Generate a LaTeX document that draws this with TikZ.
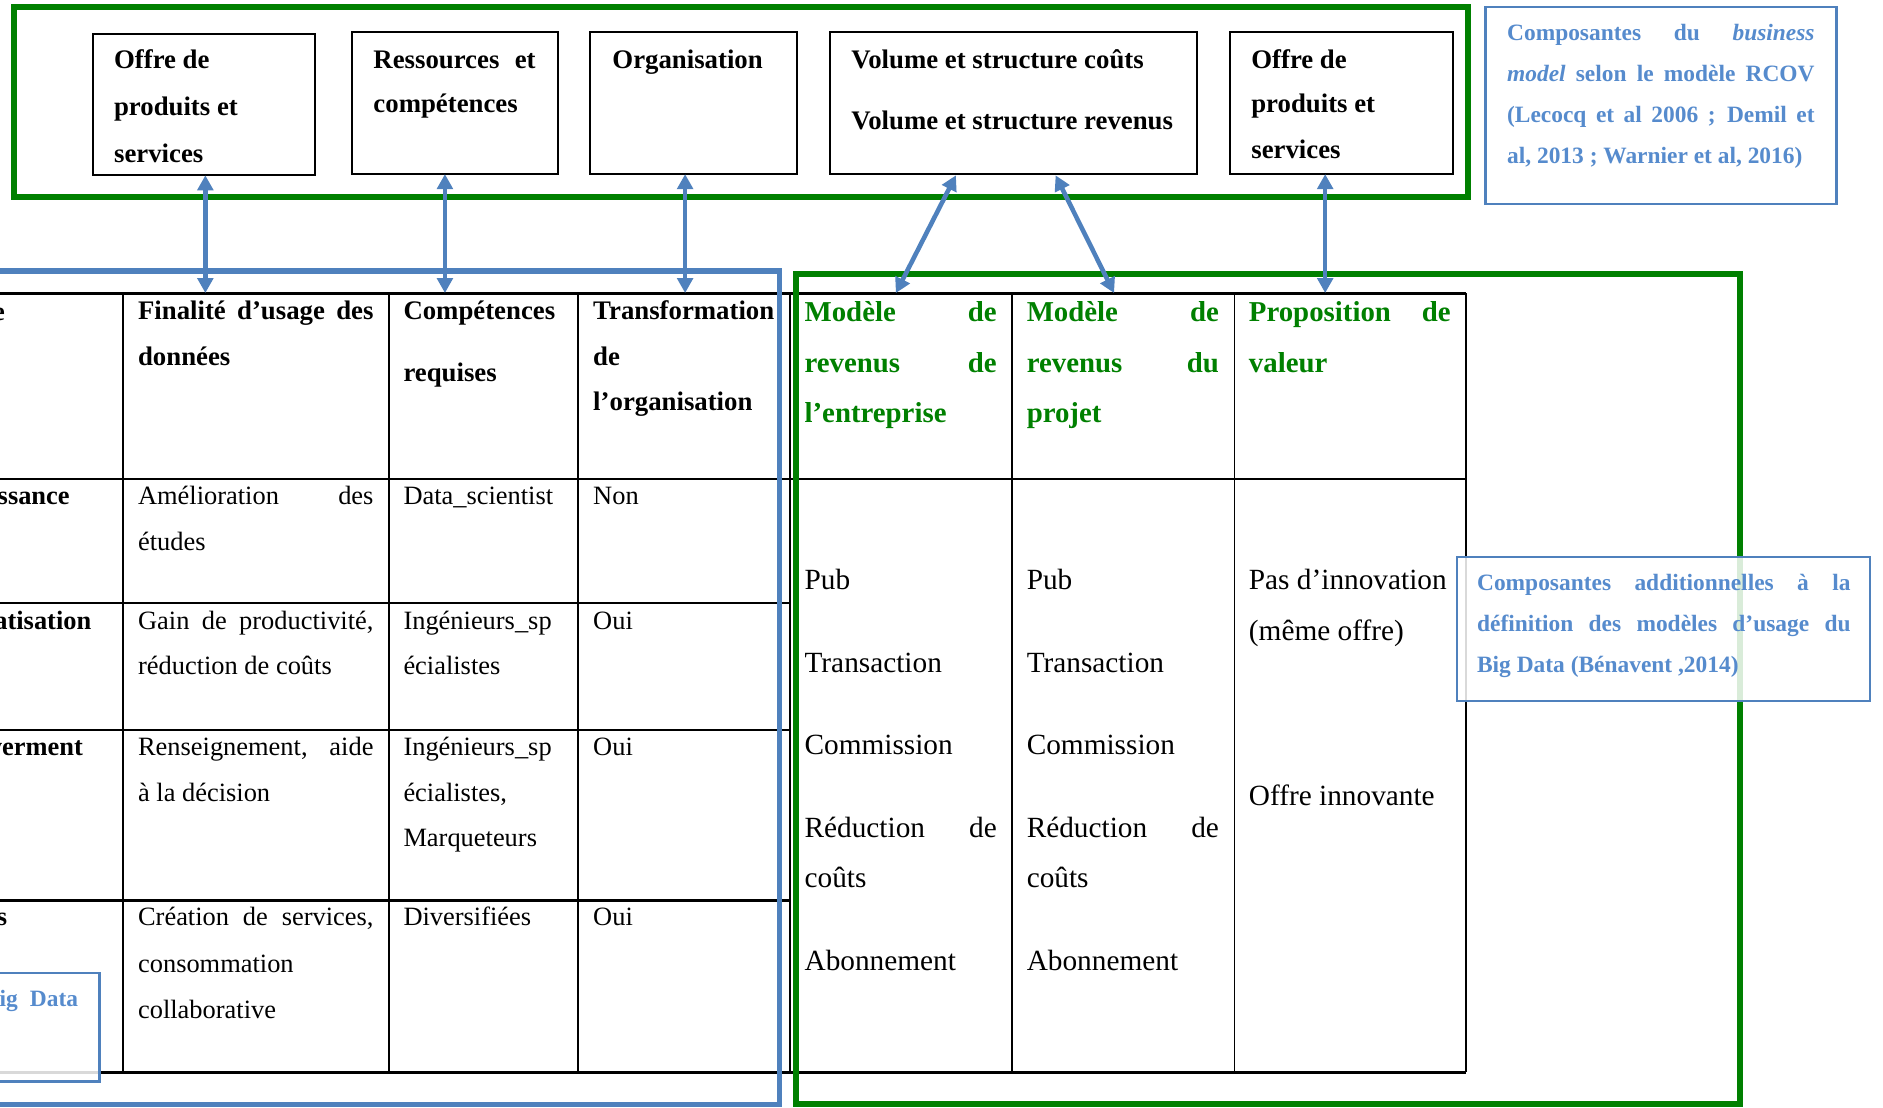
\documentclass[tikz,border=0pt]{standalone}
\usepackage{fontspec}
\setmainfont{Liberation Serif}
\usetikzlibrary{arrows.meta}
\definecolor{frgreen}{HTML}{008000}
\definecolor{frblue}{HTML}{4F81BD}
\definecolor{notetext}{HTML}{568BCD}
\newcommand{\jl}[2]{\makebox[#1pt][s]{#2}}
\begin{document}
\begin{tikzpicture}[x=1pt,y=-1pt,
 every node/.style={inner sep=0pt,outer sep=0pt},
 body/.style={anchor=base west,font=\fontsize{22}{26}\selectfont},
 bodyb/.style={anchor=base west,font=\fontsize{22.3}{26}\selectfont\bfseries},
 bodyr/.style={anchor=base west,font=\fontsize{24.4}{28}\selectfont},
 ghead/.style={anchor=base west,font=\fontsize{24}{28}\selectfont\bfseries,text=frgreen},
 note/.style={anchor=base west,font=\fontsize{19.5}{23}\selectfont\bfseries,text=notetext},
 cut/.style={anchor=base east,font=\fontsize{22}{26}\selectfont\bfseries},
 gframe/.style={draw=frgreen,line width=5pt},
 bframe/.style={draw=frblue,line width=4.5pt},
 topbox/.style={draw=black,line width=1.8pt,anchor=north west},
 notebox/.style={draw=frblue,line width=2pt,fill=white,fill opacity=0.85,anchor=north west},
 tline/.style={draw=black,line width=2pt},
 tvline/.style={draw=black,line width=1.5pt},
 link/.style={draw=frblue,line width=3.8pt,>={Triangle[width=13pt,length=12.5pt]},<->}
]
\useasboundingbox (0,0) rectangle (1568,922);
\fill[white] (0,0) rectangle (1568,922);
\clip (0,0) rectangle (1568,922);

% ---------- table ----------
\draw[tline] (-5,244.3) -- (1220.7,244.3);
\draw[tline] (-5,399) -- (1220.7,399);
\draw[tline] (-5,502) -- (657.7,502);
\draw[tline] (-5,608) -- (657.7,608);
\draw[tline] (-5,750) -- (657.7,750);
\draw[tline] (-5,893) -- (1220.7,893);
\foreach \cx in {102.4,323.7,481.4,657.7,843,1028}
  \draw[tvline] (\cx,244.3) -- (\cx,893);
\draw[tline] (1220.7,244.3) -- (1220.7,893);

% ---------- frames ----------
\draw[bframe] (-20,225.5) rectangle (649,919.5);
\draw[gframe] (662.5,228.5) rectangle (1449,919.5);
\draw[gframe] (11.5,5.5) rectangle (1222,164);

% ---------- top boxes ----------
\node[topbox,minimum width=185pt,minimum height=118pt] (b1) at (77.5,28) {};
\node[topbox,minimum width=171.6pt,minimum height=118.6pt] (b2) at (293,26.4) {};
\node[topbox,minimum width=172.5pt,minimum height=118.6pt] (b3) at (491,26.4) {};
\node[topbox,minimum width=306pt,minimum height=118.6pt] (b4) at (691,26.4) {};
\node[topbox,minimum width=185.6pt,minimum height=118.6pt] (b5) at (1024.4,26.4) {};

% ---------- note boxes ----------
\node[notebox,minimum width=292.4pt,minimum height=164pt] (n1) at (1237,6) {};
\node[notebox,minimum width=344pt,minimum height=119.5pt] (n2) at (1213,464) {};
\node[notebox,minimum width=102.8pt,minimum height=90.3pt] (n3) at (-20,810.4) {};

% ---------- top box texts ----------
\node[bodyb] (t11) at (95,57) {Offre de};
\node[bodyb] (t12) at (95,96) {produits et};
\node[bodyb] (t13) at (95,135) {services};
\node[bodyb] (t21) at (311,57) {\jl{135}{Ressources et}};
\node[bodyb] (t22) at (311,94) {compétences};
\node[bodyb] (t31) at (510,57) {Organisation};
\node[bodyb] (t41) at (709,57) {Volume et structure coûts};
\node[bodyb] (t42) at (709,108) {Volume et structure revenus};
\node[bodyb] (t51) at (1042,57) {Offre de};
\node[bodyb] (t52) at (1042,94) {produits et};
\node[bodyb] (t53) at (1042,132) {services};

% ---------- note texts ----------
\node[note] (m11) at (1255,34) {\jl{256}{Composantes du \textit{business}}};
\node[note] (m12) at (1255,68) {\jl{256}{\textit{model} selon le modèle RCOV}};
\node[note] (m13) at (1255,102) {\jl{256}{(Lecocq et al 2006 ; Demil et}};
\node[note] (m14) at (1255,136) {al, 2013 ; Warnier et al, 2016)};
\node[note] (m21) at (1230,492) {\jl{311}{Composantes additionnelles à la}};
\node[note] (m22) at (1230,526) {\jl{311}{définition des modèles d’usage du}};
\node[note] (m23) at (1230,560) {Big Data (Bénavent ,2014)};
\node[note,anchor=base east] (m31) at (65,838) {ig\hspace{10pt}Data};

% ---------- left table ----------
\node[cut] (c0) at (4,267) {e};
\node[bodyb] (h11) at (115,266) {\jl{196}{Finalité d’usage des}};
\node[bodyb] (h12) at (115,304) {données};
\node[bodyb] (h21) at (336,266) {Compétences};
\node[bodyb] (h22) at (336,318) {requises};
\node[bodyb] (h31) at (494,266) {Transformation};
\node[bodyb] (h32) at (494,304) {de};
\node[bodyb] (h33) at (494,342) {l’organisation};

\node[cut] (c1) at (58,420) {ssance};
\node[body] (r11) at (115,420) {\jl{196}{Amélioration des}};
\node[body] (r12) at (115,458) {études};
\node[body] (r13) at (336,420) {Data\_scientist};
\node[body] (r14) at (494,420) {Non};

\node[cut] (c2) at (76,524) {atisation};
\node[body] (r21) at (115,524) {\jl{196}{Gain de productivité,}};
\node[body] (r22) at (115,562) {réduction de coûts};
\node[body] (r23) at (336,524) {Ingénieurs\_sp};
\node[body] (r24) at (336,562) {écialistes};
\node[body] (r25) at (494,524) {Oui};

\node[cut] (c3) at (69,629) {werment};
\node[body] (r31) at (115,629) {\jl{196}{Renseignement, aide}};
\node[body] (r32) at (115,667) {à la décision};
\node[body] (r33) at (336,629) {Ingénieurs\_sp};
\node[body] (r34) at (336,667) {écialistes,};
\node[body] (r35) at (336,705) {Marqueteurs};
\node[body] (r36) at (494,629) {Oui};

\node[cut] (c4) at (6,771) {s};
\node[body] (r41) at (115,771) {\jl{196}{Création de services,}};
\node[body] (r42) at (115,810) {consommation};
\node[body] (r43) at (115,848) {collaborative};
\node[body] (r44) at (336,771) {Diversifiées};
\node[body] (r45) at (494,771) {Oui};

% ---------- right table ----------
\node[ghead] (g11) at (670,268) {\jl{160}{Modèle de}};
\node[ghead] (g12) at (670,310) {\jl{160}{revenus de}};
\node[ghead] (g13) at (670,352) {l’entreprise};
\node[ghead] (g21) at (855,268) {\jl{160}{Modèle de}};
\node[ghead] (g22) at (855,310) {\jl{160}{revenus du}};
\node[ghead] (g23) at (855,352) {projet};
\node[ghead] (g31) at (1040,268) {\jl{168}{Proposition de}};
\node[ghead] (g32) at (1040,310) {valeur};

\node[bodyr] (p11) at (670,491) {Pub};
\node[bodyr] (p12) at (670,560) {Transaction};
\node[bodyr] (p13) at (670,628) {Commission};
\node[bodyr] (p14) at (670,697) {\jl{160}{Réduction de}};
\node[bodyr] (p15) at (670,739) {coûts};
\node[bodyr] (p16) at (670,808) {Abonnement};
\node[bodyr] (p21) at (855,491) {Pub};
\node[bodyr] (p22) at (855,560) {Transaction};
\node[bodyr] (p23) at (855,628) {Commission};
\node[bodyr] (p24) at (855,697) {\jl{160}{Réduction de}};
\node[bodyr] (p25) at (855,739) {coûts};
\node[bodyr] (p26) at (855,808) {Abonnement};
\node[bodyr] (p31) at (1040,491) {Pas d’innovation};
\node[bodyr] (p32) at (1040,533) {(même offre)};
\node[bodyr] (p33) at (1040,671) {Offre innovante};

% ---------- connectors ----------
\coordinate (e1) at (171,244);
\coordinate (e2) at (370.5,244);
\coordinate (e3) at (570.5,244);
\coordinate (s4) at (796,146);
\coordinate (e4) at (746,244);
\coordinate (s5) at (879,146);
\coordinate (e5) at (927.7,244);
\coordinate (e6) at (1103.5,244);
\draw[link] (b1.south -| e1) -- (e1);
\draw[link] (b2.south -| e2) -- (e2);
\draw[link] (b3.south -| e3) -- (e3);
\draw[link] (s4) -- (e4);
\draw[link] (s5) -- (e5);
\draw[link] (b5.south -| e6) -- (e6);
\end{tikzpicture}
\end{document}
